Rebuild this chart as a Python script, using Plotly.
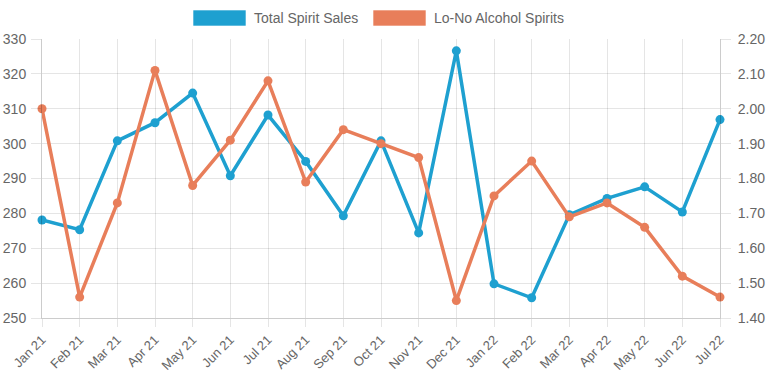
import plotly.graph_objects as go

months = ["Jan 21", "Feb 21", "Mar 21", "Apr 21", "May 21", "Jun 21", "Jul 21", "Aug 21",
          "Sep 21", "Oct 21", "Nov 21", "Dec 21", "Jan 22", "Feb 22", "Mar 22", "Apr 22",
          "May 22", "Jun 22", "Jul 22"]
total_spirit = [278.1, 275.3, 300.8, 306.0, 314.5, 290.8, 308.2, 294.9, 279.3, 300.8,
                274.4, 326.6, 259.8, 255.8, 279.6, 284.3, 287.6, 280.4, 306.9]
lo_no = [2.00, 1.46, 1.73, 2.11, 1.78, 1.91, 2.08, 1.79, 1.94, 1.90,
         1.86, 1.45, 1.75, 1.85, 1.69, 1.73, 1.66, 1.52, 1.46]
left_ticks = [250, 260, 270, 280, 290, 300, 310, 320, 330]
right_ticks = [1.40, 1.50, 1.60, 1.70, 1.80, 1.90, 2.00, 2.10, 2.20]

BLUE = "#1ea0d0"
ORANGE = "#e87e5a"
GRID = "rgba(0,0,0,0.1)"
FONT = "Liberation Sans, Arial, sans-serif"
TXT = "#666666"

fig = go.Figure()
fig.add_trace(go.Scatter(x=months, y=total_spirit, name="Total Spirit Sales", mode="lines+markers",
                         line=dict(color=BLUE, width=3.5), marker=dict(color=BLUE, size=9),
                         cliponaxis=False, showlegend=False, yaxis="y"))
fig.add_trace(go.Scatter(x=months, y=lo_no, name="Lo-No Alcohol Spirits", mode="lines+markers",
                         line=dict(color=ORANGE, width=3.5), marker=dict(color=ORANGE, size=9),
                         cliponaxis=False, showlegend=False, yaxis="y2"))

axis_common = dict(showgrid=True, gridcolor=GRID, gridwidth=1, zeroline=False,
                   ticks="outside", ticklen=10, tickcolor=GRID, automargin=False,
                   tickfont=dict(family=FONT, size=14, color=TXT))

fig.update_layout(
    width=767, height=383,
    margin=dict(l=42, r=47, t=39, b=65),
    paper_bgcolor="white", plot_bgcolor="white",
    font=dict(family=FONT, color=TXT),
    xaxis=dict(type="category", range=[0, len(months) - 1], tickangle=-45,
               showline=True, linecolor="rgba(0,0,0,0.2)", linewidth=1,
               **{**axis_common, "ticklen": 8, "tickfont": dict(family=FONT, size=13, color=TXT)}),
    yaxis=dict(range=[250, 330], tickvals=left_ticks, showline=True,
               linecolor="rgba(0,0,0,0.2)", ticklabelstandoff=2, **axis_common),
    yaxis2=dict(range=[1.40, 2.20], tickvals=right_ticks, tickformat=".2f", overlaying="y",
                side="right", showline=True, linecolor="rgba(0,0,0,0.2)", ticklabelstandoff=4,
                **{**axis_common, "showgrid": False}),
    showlegend=False,
)

# Chart.js-style legend boxes
legend_items = [("Total Spirit Sales", BLUE, 193), ("Lo-No Alcohol Spirits", ORANGE, 373)]
for label, color, x0 in legend_items:
    fig.add_shape(type="rect", xref="paper", yref="paper",
                  x0=(x0 - 42) / 678, x1=(x0 + 53 - 42) / 678,
                  y0=(318 - 26) / 279, y1=(318 - 10) / 279,
                  fillcolor=color, line=dict(color="rgba(255,255,255,0.6)", width=1))
    fig.add_annotation(xref="paper", yref="paper", x=(x0 + 59 - 42) / 678, y=(318 - 18) / 279,
                       text=label, showarrow=False, xanchor="left", yanchor="middle",
                       font=dict(family=FONT, size=14, color=TXT))

fig.write_html("out.html", config={"displayModeBar": False},
               post_script="document.body.style.margin='0';")
